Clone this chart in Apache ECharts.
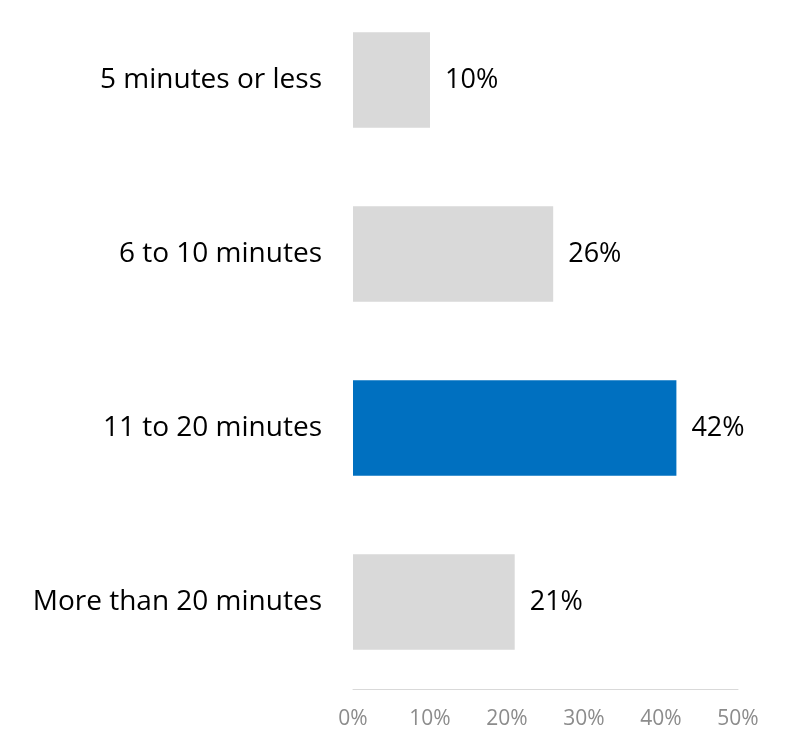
<!DOCTYPE html>
<html>
<head>
<meta charset="utf-8">
<script src="https://cdn.jsdelivr.net/npm/echarts@6/dist/echarts.min.js"></script>
<style>
  html, body { margin: 0; padding: 0; background: #fff; }
  #chart { width: 800px; height: 731px; }
</style>
</head>
<body>
<div id="chart"></div>
<script>
// Commute-time buckets and the share of respondents in each
const categories = ['5 minutes or less', '6 to 10 minutes', '11 to 20 minutes', 'More than 20 minutes'];
const shares = [10, 26, 42, 21];
const highlighted = [false, false, true, false];
const tickValues = [0, 10, 20, 30, 40, 50];

const FONT = '"Open Sans", "Liberation Sans", sans-serif';

const chart = echarts.init(document.getElementById('chart'), null, { renderer: 'canvas' });
chart.setOption({
  animation: false,
  backgroundColor: '#ffffff',
  grid: {
    left: 353, right: 62, top: -7, bottom: 42,
    containLabel: false,
    outerBoundsMode: 'none'
  },
  xAxis: {
    type: 'value',
    min: tickValues[0],
    max: tickValues[tickValues.length - 1],
    interval: 10,
    axisLine: { show: true, lineStyle: { color: '#d9d9d9', width: 1 } },
    axisTick: { show: false },
    splitLine: { show: false },
    axisLabel: {
      formatter: v => v + '%',
      color: '#8c8c8c',
      fontSize: 21,
      fontFamily: FONT,
      margin: 20
    }
  },
  yAxis: {
    type: 'category',
    data: categories,
    inverse: true,
    axisLine: { show: false },
    axisTick: { show: false },
    axisLabel: {
      color: '#000000',
      fontSize: 28,
      fontFamily: FONT,
      margin: 31
    }
  },
  series: [{
    type: 'bar',
    barWidth: '55%',
    data: shares.map((v, i) => ({
      value: v,
      itemStyle: { color: highlighted[i] ? '#0070c0' : '#d9d9d9' }
    })),
    label: {
      show: true,
      position: 'right',
      distance: 15,
      formatter: p => p.value + '%',
      color: '#000000',
      fontSize: 27,
      fontFamily: FONT
    }
  }]
});
</script>
</body>
</html>
